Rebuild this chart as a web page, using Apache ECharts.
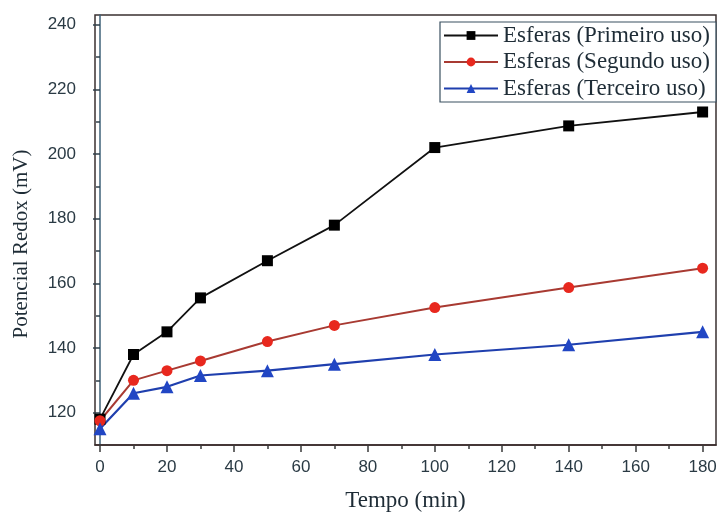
<!DOCTYPE html>
<html>
<head>
<meta charset="utf-8">
<script src="https://cdn.jsdelivr.net/npm/echarts@6/dist/echarts.min.js"></script>
<style>
html,body{margin:0;padding:0;background:#fff;}
#chart{width:718px;height:512px;}
</style>
</head>
<body>
<div id="chart"></div>
<script>
// dados
var tempo = [0, 10, 20, 30, 50, 70, 100, 140, 180];
var primeiroUso = [118, 138, 145, 155.5, 167, 178, 202, 208.7, 213];
var segundoUso = [117.5, 130, 133, 136, 142, 147, 152.5, 158.7, 164.7];
var terceiroUso = [115, 126, 128, 131.5, 133, 135, 138, 141, 145];

var xTicks = [0, 20, 40, 60, 80, 100, 120, 140, 160, 180];
var xMinor = [10, 30, 50, 70, 90, 110, 130, 150, 170];
var yTicks = [120, 140, 160, 180, 200, 220, 240];
var yMinor = [130, 150, 170, 190, 210, 230];

function pares(xs, ys){
    var out = [];
    for (var i = 0; i < xs.length; i++) {
        out.push([xs[i], ys[i]]);
    }
    return out;
}

var serif = '"Liberation Serif","DejaVu Serif",serif';
var sans = '"Liberation Sans",Arial,sans-serif';

var myChart = echarts.init(document.getElementById('chart'));
var option = {
    animation: false,
    backgroundColor: '#fff',
    grid: {
        left: 95, right: 2, top: 15, bottom: 67,
        outerBoundsMode: 'none',
        show: true,
        borderColor: '#3a3030',
        borderWidth: 1.5
    },
    legend: {
        orient: 'vertical',
        left: 440,
        top: 22,
        width: 276,
        padding: [2, 6, 2, 3],
        itemGap: 3.5,
        itemWidth: 54,
        itemHeight: 11,
        borderColor: '#3a5060',
        borderWidth: 1.2,
        backgroundColor: '#fff',
        textStyle: {fontFamily: serif, fontSize: 23, color: '#1e2c36'},
        data: ['Esferas (Primeiro uso)', 'Esferas (Segundo uso)', 'Esferas (Terceiro uso)']
    },
    xAxis: [{
        type: 'value',
        min: -1.5,
        max: 184,
        name: 'Tempo (min)',
        nameLocation: 'middle',
        nameGap: 44,
        nameTextStyle: {fontFamily: serif, fontSize: 23, color: '#1e2c36'},
        axisLine: {show: true, lineStyle: {color: '#3a2a2a', width: 1.5}},
        axisTick: {show: true, length: 7, customValues: xTicks, lineStyle: {color: '#3a3a3a', width: 1.5}},
        axisLabel: {customValues: xTicks, margin: 14, fontFamily: sans, fontSize: 17, color: '#2a3a44'},
        splitLine: {show: false}
    }, {
        type: 'value',
        min: -1.5,
        max: 184,
        position: 'bottom',
        axisLine: {show: false},
        axisTick: {show: true, length: 4, customValues: xMinor, lineStyle: {color: '#3a3a3a', width: 1.5}},
        axisLabel: {show: false},
        splitLine: {show: false}
    }],
    yAxis: [{
        type: 'value',
        min: 110,
        max: 243,
        name: 'Potencial Redox (mV)',
        nameLocation: 'middle',
        nameGap: 63,
        nameTextStyle: {fontFamily: serif, fontSize: 21, color: '#1e2c36', padding: [0, 28, 0, 0]},
        axisLine: {show: true, lineStyle: {color: '#3f6278', width: 1.5}},
        axisTick: {show: true, length: 7, customValues: yTicks, lineStyle: {color: '#2f3f4a', width: 1.5}},
        axisLabel: {customValues: yTicks, margin: 19, fontFamily: sans, fontSize: 17, color: '#2a3a44'},
        splitLine: {show: false}
    }, {
        type: 'value',
        min: 110,
        max: 243,
        position: 'left',
        axisLine: {show: false},
        axisTick: {show: true, length: 4, customValues: yMinor, lineStyle: {color: '#2f3f4a', width: 1.5}},
        axisLabel: {show: false},
        splitLine: {show: false}
    }],
    series: [{
        name: 'Esferas (Primeiro uso)',
        type: 'line',
        data: pares(tempo, primeiroUso),
        symbol: 'rect',
        symbolSize: 11,
        lineStyle: {color: '#111', width: 1.8},
        itemStyle: {color: '#000'}
    }, {
        name: 'Esferas (Segundo uso)',
        type: 'line',
        data: pares(tempo, segundoUso),
        symbol: 'circle',
        symbolSize: 11,
        lineStyle: {color: '#a83a32', width: 2},
        itemStyle: {color: '#e8281e'}
    }, {
        name: 'Esferas (Terceiro uso)',
        type: 'line',
        data: pares(tempo, terceiroUso),
        symbol: 'triangle',
        symbolSize: 13,
        lineStyle: {color: '#1f3fae', width: 2.2},
        itemStyle: {color: '#2146c4'}
    }]
};
myChart.setOption(option);
window.addEventListener("resize", function () {
    myChart.resize();
});
</script>
</body>
</html>
